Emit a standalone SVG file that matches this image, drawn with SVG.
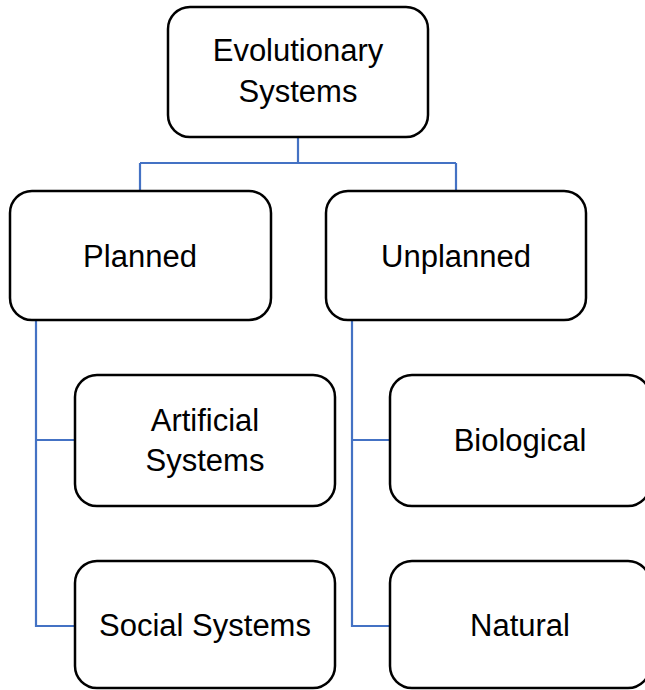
<svg xmlns="http://www.w3.org/2000/svg" width="645" height="690" viewBox="0 0 645 690">
<style>
.box{fill:#fff;stroke:#000;stroke-width:2.5}
.lbl{font-family:"Liberation Sans",Arial,sans-serif;font-size:31px;fill:#000;text-anchor:middle}
.con{fill:none;stroke:#4472C4;stroke-width:2.2}
</style>
<rect width="645" height="690" fill="#fff"/>
<g id="connectors">
<path class="con" d="M298,137 V163 M140,163 H456 M140,163 V191 M456,163 V191"/>
<path class="con" d="M36,320 V626 H75 M36,440 H75"/>
<path class="con" d="M352,320 V626 H390 M352,440 H390"/>
</g>
<g id="evolutionary">
<rect class="box" x="168" y="7" width="260" height="130" rx="22"/>
<text class="lbl" x="298" y="61">Evolutionary</text>
<text class="lbl" x="298" y="102">Systems</text>
</g>
<g id="planned">
<rect class="box" x="10" y="191" width="261" height="129" rx="22"/>
<text class="lbl" x="140" y="267">Planned</text>
</g>
<g id="unplanned">
<rect class="box" x="326" y="191" width="260" height="129" rx="22"/>
<text class="lbl" x="456" y="267">Unplanned</text>
</g>
<g id="artificial">
<rect class="box" x="75" y="375" width="260" height="131" rx="22"/>
<text class="lbl" x="205" y="431">Artificial</text>
<text class="lbl" x="205" y="471">Systems</text>
</g>
<g id="social">
<rect class="box" x="75" y="561" width="260" height="127" rx="22"/>
<text class="lbl" x="205" y="636">Social Systems</text>
</g>
<g id="biological">
<rect class="box" x="390" y="375" width="260" height="131" rx="22"/>
<text class="lbl" x="520" y="451">Biological</text>
</g>
<g id="natural">
<rect class="box" x="390" y="561" width="260" height="127" rx="22"/>
<text class="lbl" x="520" y="636">Natural</text>
</g>
</svg>
